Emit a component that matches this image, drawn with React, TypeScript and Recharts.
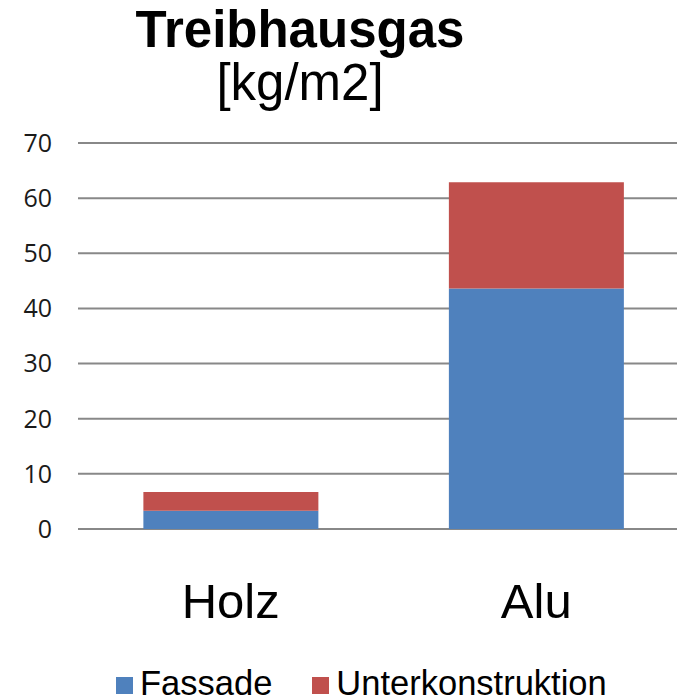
import { BarChart, Bar, XAxis, YAxis, CartesianGrid, Legend } from 'recharts'

const categories = ['Holz', 'Alu']
const fassade = [3.3, 43.6]
const unterkonstruktion = [3.4, 19.3]
const yTicks = [0, 10, 20, 30, 40, 50, 60, 70]

const data = categories.map((name, i) => ({
  name,
  fassade: fassade[i],
  unterkonstruktion: unterkonstruktion[i],
}))

const ARIAL = '"Liberation Sans", Arial, sans-serif'

function ChartLegend({ payload }: any) {
  return (
    <div style={{ height: 55, paddingTop: 23, boxSizing: 'border-box', display: 'flex', paddingLeft: 116 }}>
      {(payload || []).map((entry: any) => (
        <div key={entry.value} style={{ display: 'flex', alignItems: 'center', marginRight: 40, height: 30 }}>
          <span style={{ width: 17, height: 17, background: entry.color, marginRight: 7, marginTop: 5 }} />
          <span style={{ fontFamily: ARIAL, fontSize: 34.5, lineHeight: '30px', color: '#000' }}>{entry.value}</span>
        </div>
      ))}
    </div>
  )
}

export default function App() {
  return (
    <div style={{ position: 'absolute', left: 0, top: 0, width: 677, height: 700, overflow: 'hidden', background: '#fff' }}>
      <div
        style={{
          position: 'absolute',
          top: 3,
          left: 0,
          width: 600,
          textAlign: 'center',
          fontFamily: ARIAL,
          fontSize: 51,
          lineHeight: '53px',
          color: '#000',
        }}
      >
        <div style={{ fontWeight: 'bold' }}>Treibhausgas</div>
        <div>[kg/m2]</div>
      </div>
      <BarChart
        width={700}
        height={700}
        data={data}
        margin={{ top: 143, right: 11, left: 0, bottom: 0 }}
        barCategoryGap="21.4%"
      >
        <CartesianGrid vertical={false} stroke="#888" strokeWidth={2} />
        <XAxis
          dataKey="name"
          height={116}
          axisLine={false}
          tickLine={false}
          tickSize={0}
          tickMargin={54}
          tick={{ fill: '#000', fontSize: 49, fontFamily: ARIAL }}
        />
        <YAxis
          width={78}
          domain={[0, 70]}
          ticks={yTicks}
          axisLine={false}
          tickLine={false}
          tickSize={0}
          tickMargin={26}
          tick={{ fill: '#1a1a1a', fontSize: 25, fontFamily: '"Open Sans", sans-serif' }}
        />
        <Legend verticalAlign="bottom" content={<ChartLegend />} />
        <Bar dataKey="fassade" name="Fassade" stackId="a" fill="#4F81BD" isAnimationActive={false} />
        <Bar dataKey="unterkonstruktion" name="Unterkonstruktion" stackId="a" fill="#C0504D" isAnimationActive={false} />
      </BarChart>
    </div>
  )
}
